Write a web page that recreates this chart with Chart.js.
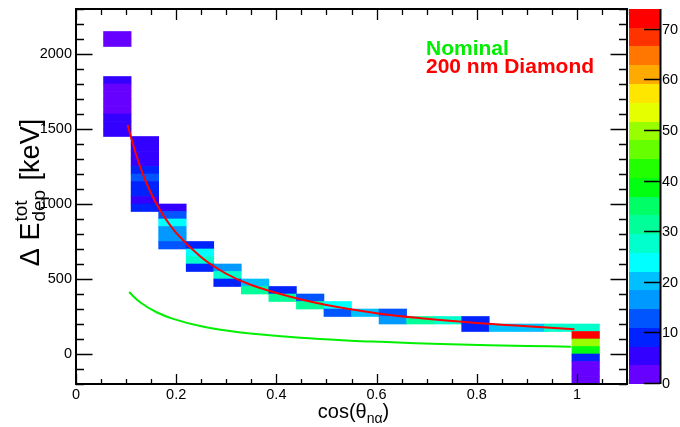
<!DOCTYPE html>
<html>
<head>
<meta charset="utf-8">
<script src="https://cdn.jsdelivr.net/npm/chart.js@4/dist/chart.umd.min.js"></script>
<style>
html,body{margin:0;padding:0;background:#fff;}
#wrap{width:680px;height:427px;position:relative;}
</style>
</head>
<body>
<div id="wrap"><canvas id="c" width="680" height="427"></canvas></div>
<script>
// ---------------- data ----------------
const xTickValues = [0, 0.2, 0.4, 0.6, 0.8, 1];
const xTickLabels = ['0', '0.2', '0.4', '0.6', '0.8', '1'];
const yTickValues = [0, 500, 1000, 1500, 2000];
const yTickLabels = ['0', '500', '1000', '1500', '2000'];
const zTickValues = [0, 10, 20, 30, 40, 50, 60, 70];
const zTickLabels = ['0', '10', '20', '30', '40', '50', '60', '70'];
const zMax = 74.1;

const binWidthX = 0.055;
const binWidthY = 50;
// lower edges of filled cells (x), lower edges (y), counts
const cellXLow = [
  0.055, 0.055, 0.055, 0.055, 0.055, 0.055, 0.055, 0.055, 0.055, 0.055,
  0.11, 0.11, 0.11, 0.11, 0.11, 0.11, 0.11, 0.11, 0.11, 0.11,
  0.165, 0.165, 0.165, 0.165, 0.165, 0.165,
  0.22, 0.22, 0.22, 0.22,
  0.275, 0.275, 0.275,
  0.33, 0.33,
  0.385, 0.385,
  0.44, 0.44,
  0.495, 0.495,
  0.55,
  0.605, 0.605,
  0.66,
  0.715,
  0.77, 0.77,
  0.825,
  0.88,
  0.935,
  0.99, 0.99, 0.99, 0.99, 0.99, 0.99, 0.99, 0.99
];
const cellYLow = [
  2100, 2050, 1800, 1750, 1700, 1650, 1600, 1550, 1500, 1450,
  1400, 1350, 1300, 1250, 1200, 1150, 1100, 1050, 1000, 950,
  950, 900, 850, 800, 750, 700,
  700, 650, 600, 550,
  550, 500, 450,
  450, 400,
  400, 350,
  350, 300,
  300, 250,
  250,
  250, 200,
  200,
  200,
  200, 150,
  150,
  150,
  150,
  150, 100, 50, 0, -50, -100, -150, -200
];
const cellCount = [
  2, 2, 5, 2, 2, 2, 2, 5, 5, 5,
  5, 5, 5, 5, 9, 13, 9, 9, 5, 9,
  5, 13, 24, 16, 16, 13,
  9, 24, 28, 9,
  16, 28, 9,
  20, 31,
  9, 31,
  13, 31,
  24, 13,
  20,
  13, 16,
  31,
  28,
  9, 9,
  20,
  20,
  28,
  28, 73, 50, 39, 9, 2, 2, 2
];

const nominalX = [0.106, 0.128, 0.16, 0.194, 0.248, 0.3, 0.348, 0.448, 0.548, 0.608, 0.748, 0.9, 0.988];
const nominalY = [413, 345, 280, 234, 186, 156, 136, 108, 89, 81, 65, 54, 49];

const diamondX = [0.103, 0.12, 0.14, 0.165, 0.2, 0.25, 0.3, 0.35, 0.428, 0.5, 0.6, 0.7, 0.8, 0.9, 0.995];
const diamondY = [1527, 1330, 1145, 975, 807, 645, 535, 460, 382, 327, 272, 235, 207, 185, 165];

const paletteColors = ['#6600ff','#3300ff','#0022ff','#0055ff','#0099ff','#00c0ff','#00ffff','#00ffcc','#00ff99','#00ff66',
                       '#00ff11','#22ff00','#66ff00','#99ff00','#e6ff00','#ffe600','#ffaa00','#ff7700','#ff3300','#ff0000'];

// ---------------- chart ----------------
const FONT = "'Liberation Sans', Arial, Helvetica, sans-serif";

function bandColor(v) {
  const n = paletteColors.length;
  const i = Math.min(n - 1, Math.max(0, Math.floor(v / zMax * n)));
  return paletteColors[i];
}

const cellData = cellXLow.map((x, i) => ({ x: x + binWidthX / 2, y: [cellYLow[i], cellYLow[i] + binWidthY], v: cellCount[i] }));

function drawParts(ctx, parts, x0, y0) {
  let x = x0;
  for (let i = 0; i < parts.length; i++) {
    const p = parts[i];
    ctx.font = `${p.size}px ${FONT}`;
    ctx.fillText(p.t, x, y0 + (p.dy || 0));
    let w = ctx.measureText(p.t).width;
    if (p.stack) {
      const q = parts[i + 1];
      ctx.font = `${q.size}px ${FONT}`;
      ctx.fillText(q.t, x, y0 + (q.dy || 0));
      w = Math.max(w, ctx.measureText(q.t).width);
      i++;
    }
    x += w + (p.gap || 0);
  }
}
function partsWidth(ctx, parts) {
  let w = 0;
  for (let i = 0; i < parts.length; i++) {
    const p = parts[i];
    ctx.font = `${p.size}px ${FONT}`;
    let ww = ctx.measureText(p.t).width;
    if (p.stack) {
      const q = parts[i + 1];
      ctx.font = `${q.size}px ${FONT}`;
      ww = Math.max(ww, ctx.measureText(q.t).width);
      i++;
    }
    w += ww + (p.gap || 0);
  }
  return w;
}

const rootPlugin = {
  id: 'rootStyle',
  afterDraw(chart) {
    const { ctx, chartArea: a, scales } = chart;
    const xs = scales.x, ys = scales.y, zs = scales.z;
    ctx.save();
    ctx.strokeStyle = '#000';
    // ticks
    ctx.lineWidth = 1.3;
    ctx.beginPath();
    for (let k = 0; k <= 22; k++) {
      const v = k * 0.05;
      const px = Math.round(xs.getPixelForValue(v)) + 0.5;
      const major = k % 4 === 0 && v <= 1.0001;
      const lb = major ? 10 : 5, lt = major ? 11 : 6;
      ctx.moveTo(px, a.bottom); ctx.lineTo(px, a.bottom - lb);
      ctx.moveTo(px, a.top); ctx.lineTo(px, a.top + lt);
    }
    for (let k = -2; k <= 23; k++) {
      const v = k * 100;
      const py = Math.round(ys.getPixelForValue(v)) + 0.5;
      const major = k % 5 === 0 && k >= 0 && k <= 20;
      const l = major ? 16.5 : 8;
      ctx.moveTo(a.left, py); ctx.lineTo(a.left + l, py);
      ctx.moveTo(a.right, py); ctx.lineTo(a.right - l, py);
    }
    ctx.stroke();
    // frame
    ctx.lineWidth = 2;
    ctx.strokeRect(a.left, a.top, a.right - a.left, a.bottom - a.top);

    // palette
    const px0 = 629, px1 = 660;
    const n = paletteColors.length;
    for (let i = 0; i < n; i++) {
      const yTop = Math.round(zs.getPixelForValue((i + 1) * zMax / n));
      const yBot = Math.round(zs.getPixelForValue(i * zMax / n));
      ctx.fillStyle = paletteColors[i];
      ctx.fillRect(px0, yTop, px1 - px0, yBot - yTop);
    }
    ctx.lineWidth = 2;
    ctx.beginPath();
    ctx.moveTo(px1 + 0.5, zs.top); ctx.lineTo(px1 + 0.5, zs.bottom);
    ctx.stroke();
    ctx.lineWidth = 1.3;
    ctx.beginPath();
    zTickValues.forEach(v => {
      const py = Math.round(zs.getPixelForValue(v)) - 0.5;
      ctx.moveTo(px1, py); ctx.lineTo(px1 - 16, py);
    });
    ctx.stroke();

    // legend text
    ctx.textBaseline = 'alphabetic';
    ctx.textAlign = 'left';
    ctx.font = `bold 21px ${FONT}`;
    ctx.fillStyle = '#00ee00';
    ctx.fillText(chart.data.datasets[0].label, 426, 55);
    ctx.fillStyle = '#ff0000';
    ctx.fillText(chart.data.datasets[1].label, 426, 73);

    // x title
    ctx.fillStyle = '#000';
    const xParts = [{ t: 'cos(θ', size: 20 }, { t: 'nα', size: 14, dy: 5 }, { t: ')', size: 20 }];
    const xw = partsWidth(ctx, xParts);
    drawParts(ctx, xParts, (a.left + a.right) / 2 - xw / 2 + 2, 418);

    // y title
    const yParts = [{ t: 'Δ E', size: 27, gap: 1 }, { t: 'tot', size: 19, dy: -12, stack: true, gap: 2 }, { t: 'dep', size: 19, dy: 6 }, { t: ' [keV]', size: 27 }];
    const yw = partsWidth(ctx, yParts);
    ctx.translate(39, (a.top + a.bottom) / 2 - 4);
    ctx.rotate(-Math.PI / 2);
    drawParts(ctx, yParts, -yw / 2, 0);
    ctx.restore();
  }
};

const tickFont = { family: FONT, size: 14.5 };

new Chart(document.getElementById('c').getContext('2d'), {
  type: 'bar',
  data: {
    datasets: [
      { type: 'line', label: 'Nominal', data: nominalX.map((x, i) => ({ x, y: nominalY[i] })),
        borderColor: '#00f000', borderWidth: 2, pointRadius: 0, fill: false,
        tension: 0.4, order: 0, xAxisID: 'x', yAxisID: 'y' },
      { type: 'line', label: '200 nm Diamond', data: diamondX.map((x, i) => ({ x, y: diamondY[i] })),
        borderColor: '#ff0000', borderWidth: 2, pointRadius: 0, fill: false,
        tension: 0.4, order: 1, xAxisID: 'x', yAxisID: 'y' },
      { type: 'bar', label: 'counts', data: cellData,
        backgroundColor: c => (c.raw ? bandColor(c.raw.v) : '#fff'),
        borderWidth: 0, barPercentage: 1, categoryPercentage: 1, grouped: false,
        order: 2, xAxisID: 'x', yAxisID: 'y' }
    ]
  },
  options: {
    responsive: false,
    animation: false,
    devicePixelRatio: 1,
    layout: { padding: { top: 9, left: 0, right: 0, bottom: 0 } },
    plugins: { legend: { display: false }, tooltip: { enabled: false } },
    scales: {
      x: {
        type: 'linear', min: 0, max: 1.1, offset: false, position: 'bottom',
        grid: { display: false, drawTicks: false }, border: { display: false },
        afterBuildTicks: s => { s.ticks = xTickValues.map(v => ({ value: v })); },
        afterFit: s => { s.height = 43; s.paddingLeft = 0; s.paddingRight = 0; },
        ticks: { callback: (v, i) => xTickLabels[i], font: tickFont, color: '#000', padding: 2, maxRotation: 0, minRotation: 0, autoSkip: false }
      },
      y: {
        type: 'linear', min: -200, max: 2300, position: 'left',
        grid: { display: false, drawTicks: false }, border: { display: false },
        afterBuildTicks: s => { s.ticks = yTickValues.map(v => ({ value: v })); },
        afterFit: s => { s.width = 76; s.paddingTop = 0; s.paddingBottom = 0; },
        ticks: { callback: (v, i) => yTickLabels[i], font: tickFont, color: '#000', padding: 4, autoSkip: false }
      },
      z: {
        type: 'linear', axis: 'y', min: 0, max: zMax, position: 'right',
        grid: { display: false, drawTicks: false }, border: { display: false },
        afterBuildTicks: s => { s.ticks = zTickValues.map(v => ({ value: v })); },
        afterFit: s => { s.width = 53; s.paddingTop = 0; s.paddingBottom = 0; },
        ticks: { callback: (v, i) => zTickLabels[i], font: tickFont, color: '#000', padding: 35, autoSkip: false }
      }
    }
  },
  plugins: [rootPlugin]
});
</script>
</body>
</html>
